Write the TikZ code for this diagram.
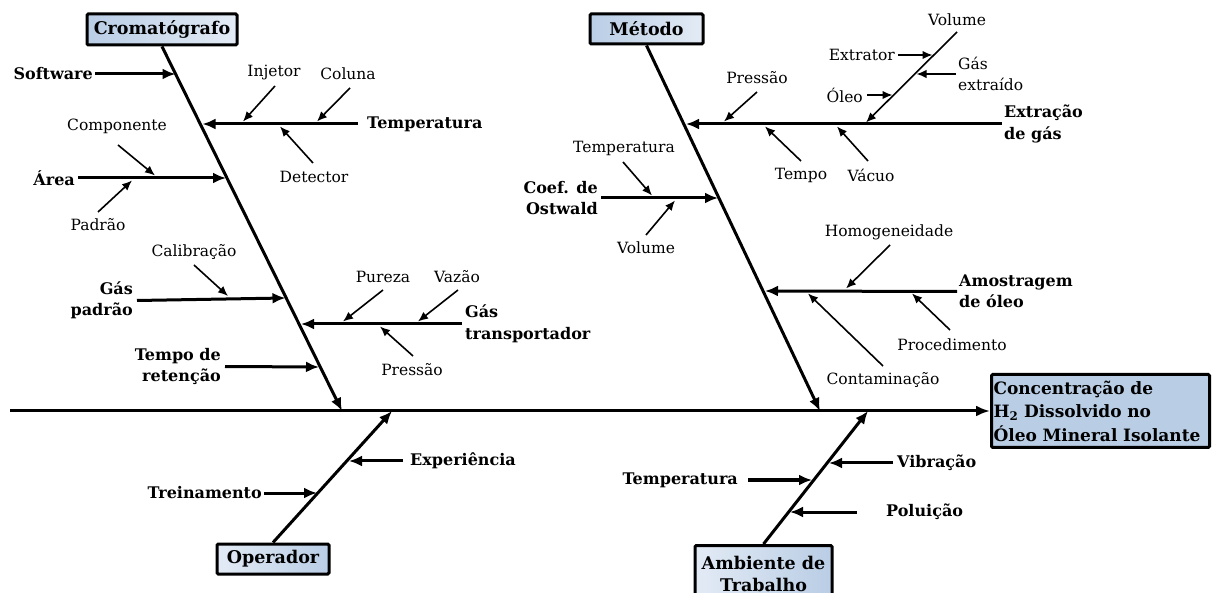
\documentclass[tikz,border=0pt]{standalone}
\usepackage{fontspec}
\setmainfont{DejaVu Serif}
\usetikzlibrary{arrows.meta,shadings}
\definecolor{boxdark}{HTML}{B9CDE5}
\definecolor{boxlight}{HTML}{E3EBF5}
\begin{document}
\begin{tikzpicture}[x=1pt,y=-1pt,
  lab/.style={font=\fontsize{15.5}{21}\selectfont, inner sep=0pt},
  blab/.style={font=\fontsize{16}{21.5}\selectfont\bfseries, inner sep=0pt},
  catbox/.style={draw, line width=3pt, rounded corners=1.2pt,
    font=\fontsize{17.5}{22}\selectfont\bfseries, inner sep=3pt},
  spine/.style={line width=3pt, -{Latex[length=14pt,width=11pt]}},
  bone/.style={line width=3pt, -{Latex[length=13pt,width=11pt]}},
  twig/.style={line width=1.6pt, -{Latex[length=10pt,width=8.5pt]}},
]
\useasboundingbox (0,0) rectangle (1216,593);

% ---------- effect and spine ----------
\node[catbox, fill=boxdark, anchor=west, align=left, text width=214pt,
      minimum height=73pt, inner xsep=2pt,
      font=\fontsize{17}{23.5}\selectfont\bfseries] (eff) at (990,411)
  {Concentração de\\H\textsubscript{2} Dissolvido no\\Óleo Mineral Isolante};
\coordinate (s0) at (10,411);
\draw[spine] (s0) -- (eff.west);

% ---------- category boxes ----------
\node[catbox, left color=boxdark, right color=boxlight,
      minimum width=150pt, minimum height=31pt] (crom) at (162,29.5) {Cromatógrafo};
\node[catbox, left color=boxdark, right color=boxlight,
      minimum width=113pt, minimum height=30pt] (met) at (646.5,29) {Método};
\node[catbox, left color=boxlight, right color=boxdark,
      minimum width=112pt, minimum height=30pt] (op) at (273,559) {Operador};
\node[catbox, left color=boxlight, right color=boxdark, anchor=north,
      align=center, minimum width=137pt, minimum height=56pt] (amb) at (763.5,544)
  {Ambiente de\\Trabalho};

% ---------- main bones ----------
\coordinate (crom-end) at (342,411);
\coordinate (met-end) at (820,411);
\coordinate (op-end) at (392,411);
\coordinate (amb-end) at (868,411);
\draw[bone] (crom.south) -- (crom-end);
\draw[bone] (met.south) -- (met-end);
\draw[bone] (op.north) -- (op-end);
\draw[bone] (amb.north) -- (amb-end);

% ---------- Cromatógrafo causes ----------
\node[blab, anchor=east] (sw) at (93,74) {Software};
\coordinate (sw-t) at (175.5,74);
\draw[bone] ([xshift=2pt]sw.east) -- (sw-t);

\node[blab, anchor=west] (ctemp) at (367,124) {Temperatura};
\coordinate (ctemp-t) at (202.5,124);
\draw[bone] ([xshift=-9pt]ctemp.west) -- (ctemp-t);

\node[lab] (inj) at (274,73) {Injetor};
\node[lab] (col) at (348,74) {Coluna};
\node[lab] (det) at (314,177) {Detector};
\coordinate (inj-s) at (275,86);   \coordinate (inj-t) at (243,121.5);
\coordinate (col-s) at (350,88);   \coordinate (col-t) at (317,121.5);
\coordinate (det-s) at (313,163);  \coordinate (det-t) at (280,126.5);
\draw[twig] (inj-s) -- (inj-t);
\draw[twig] (col-s) -- (col-t);
\draw[twig] (det-s) -- (det-t);

\node[blab, anchor=east] (area) at (75,178) {Área};
\coordinate (area-t) at (226,178);
\draw[bone] ([xshift=3pt]area.east) -- (area-t);
\node[lab] (comp) at (117,126) {Componente};
\node[lab] (pad) at (98,225) {Padrão};
\coordinate (comp-s) at (118,145); \coordinate (comp-t) at (155,175.5);
\coordinate (pad-s) at (98,212);   \coordinate (pad-t) at (132,180.5);
\draw[twig] (comp-s) -- (comp-t);
\draw[twig] (pad-s) -- (pad-t);

\node[blab, anchor=east, align=right] (gp) at (133,300.5) {Gás\\padrão};
\coordinate (gp-t) at (285.5,298);
\draw[bone] ([xshift=4pt]gp.east) -- (gp-t);
\node[lab] (cal) at (194,252) {Calibração};
\coordinate (cal-s) at (194,265);  \coordinate (cal-t) at (228,296);
\draw[twig] (cal-s) -- (cal-t);

\node[blab, anchor=east, align=right] (tr) at (221,366.5) {Tempo de\\retenção};
\coordinate (tr-t) at (319,367);
\draw[bone] ([xshift=4pt]tr.east) -- (tr-t);

\node[blab, anchor=west, align=left] (gt) at (465,324) {Gás\\transportador};
\coordinate (gt-t) at (301,324);
\draw[bone] ([xshift=-3pt]gt.west) -- (gt-t);
\node[lab] (pur) at (383,277) {Pureza};
\node[lab] (vaz) at (457,277) {Vazão};
\node[lab] (cpres) at (412,370) {Pressão};
\coordinate (pur-s) at (383,290);   \coordinate (pur-t) at (343,321.5);
\coordinate (vaz-s) at (458,290);   \coordinate (vaz-t) at (418,321.5);
\coordinate (cpres-s) at (413,356); \coordinate (cpres-t) at (380,326.5);
\draw[twig] (pur-s) -- (pur-t);
\draw[twig] (vaz-s) -- (vaz-t);
\draw[twig] (cpres-s) -- (cpres-t);

% ---------- Método causes ----------
\node[blab, anchor=west, align=left] (ext) at (1004,124) {Extração\\de gás};
\coordinate (ext-t) at (686,124);
\draw[bone] ([xshift=-2pt]ext.west) -- (ext-t);
\node[lab] (mpres) at (757,78) {Pressão};
\node[lab] (tempo) at (801,175) {Tempo};
\node[lab] (vac) at (871,175) {Vácuo};
\coordinate (mpres-s) at (757,92);  \coordinate (mpres-t) at (724,121.5);
\coordinate (tempo-s) at (801,161); \coordinate (tempo-t) at (765,126.5);
\coordinate (vac-s) at (868,161);   \coordinate (vac-t) at (837,126.5);
\draw[twig] (mpres-s) -- (mpres-t);
\draw[twig] (tempo-s) -- (tempo-t);
\draw[twig] (vac-s) -- (vac-t);

\node[lab] (vol) at (957,20) {Volume};
\coordinate (vol-s) at (957,32);  \coordinate (vol-t) at (866,122.5);
\draw[twig] (vol-s) -- (vol-t);
\node[lab, anchor=east] (extr) at (895,55) {Extrator};
\coordinate (extr-t) at (932.5,55);
\draw[twig] ([xshift=3pt]extr.east) -- (extr-t);
\node[lab, anchor=west, align=left] (gext) at (958,74) {Gás\\extraído};
\coordinate (gext-t) at (916.5,74);
\draw[twig] ([xshift=-2pt]gext.west) -- (gext-t);
\node[lab, anchor=east] (oleo) at (863,95) {Óleo};
\coordinate (oleo-t) at (892.5,95);
\draw[twig] ([xshift=4pt]oleo.east) -- (oleo-t);

\node[blab, anchor=east, align=right] (ost) at (598,198) {Coef. de\\Ostwald};
\coordinate (ost-t) at (718,198);
\draw[bone] ([xshift=3pt]ost.east) -- (ost-t);
\node[lab] (otemp) at (624,148) {Temperatura};
\node[lab] (ovol) at (646,248) {Volume};
\coordinate (otemp-s) at (623,162); \coordinate (otemp-t) at (652,195.5);
\coordinate (ovol-s) at (646,235);  \coordinate (ovol-t) at (675,200.5);
\draw[twig] (otemp-s) -- (otemp-t);
\draw[twig] (ovol-s) -- (ovol-t);

\node[blab, anchor=west, align=left] (amo) at (959,291.5) {Amostragem\\de óleo};
\coordinate (amo-t) at (765,291);
\draw[bone] ([xshift=-2pt]amo.west) -- (amo-t);
\node[lab] (homo) at (889,232) {Homogeneidade};
\node[lab] (proc) at (952,345) {Procedimento};
\node[lab] (cont) at (883,380) {Contaminação};
\coordinate (homo-s) at (890,245); \coordinate (homo-t) at (846,288.5);
\coordinate (proc-s) at (950,330); \coordinate (proc-t) at (912,293.5);
\coordinate (cont-s) at (883,366); \coordinate (cont-t) at (808,293.5);
\draw[twig] (homo-s) -- (homo-t);
\draw[twig] (proc-s) -- (proc-t);
\draw[twig] (cont-s) -- (cont-t);

% ---------- Operador causes ----------
\node[blab, anchor=west] (expe) at (410,461) {Experiência};
\coordinate (expe-t) at (349,461);
\draw[bone] ([xshift=-7pt]expe.west) -- (expe-t);
\node[blab, anchor=east] (trei) at (262,493) {Treinamento};
\coordinate (trei-t) at (317,493);
\draw[bone] ([xshift=2pt]trei.east) -- (trei-t);

% ---------- Ambiente de Trabalho causes ----------
\node[blab, anchor=west] (vib) at (897,463) {Vibração};
\coordinate (vib-t) at (829,463);
\draw[bone] ([xshift=-4pt]vib.west) -- (vib-t);
\node[blab, anchor=east] (atemp) at (738,480) {Temperatura};
\coordinate (atemp-t) at (812,480);
\draw[bone] ([xshift=10pt]atemp.east) -- (atemp-t);
\node[blab, anchor=west] (pol) at (886,512) {Poluição};
\coordinate (pol-t) at (790,512);
\draw[bone] ([xshift=-29pt]pol.west) -- (pol-t);
\end{tikzpicture}
\end{document}
